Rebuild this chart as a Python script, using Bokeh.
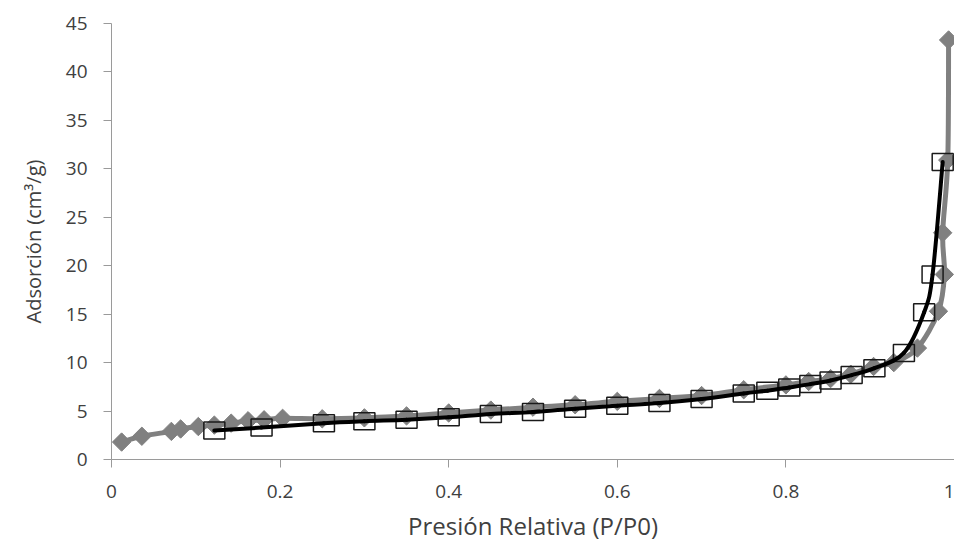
import numpy as np
from bokeh.plotting import figure
from bokeh.models import FixedTicker, Range1d
from bokeh.embed import file_html
from bokeh.resources import INLINE

# Gray series (diamonds)
gray_x = [0.012, 0.036, 0.071, 0.082, 0.103, 0.122, 0.142, 0.162, 0.181, 0.203,
          0.25, 0.30, 0.35, 0.40, 0.45, 0.50, 0.55, 0.60, 0.65, 0.70,
          0.75, 0.80, 0.827, 0.853, 0.877, 0.904, 0.928, 0.956, 0.981, 0.988,
          0.986, 0.992, 0.993]
gray_y = [1.8, 2.4, 2.9, 3.15, 3.4, 3.55, 3.75, 4.0, 4.1, 4.25,
          4.2, 4.3, 4.5, 4.8, 5.1, 5.4, 5.65, 6.0, 6.3, 6.6,
          7.2, 7.7, 8.05, 8.35, 8.8, 9.6, 10.0, 11.5, 15.3, 19.1,
          23.4, 30.9, 43.3]

# Black series (open squares)
black_x = [0.122, 0.178, 0.252, 0.30, 0.35, 0.40, 0.45, 0.50, 0.55, 0.60,
           0.65, 0.70, 0.75, 0.778, 0.804, 0.829, 0.853, 0.878, 0.905, 0.94,
           0.964, 0.974, 0.986]
black_y = [3.0, 3.3, 3.75, 3.95, 4.1, 4.35, 4.7, 4.9, 5.25, 5.55,
           5.83, 6.24, 6.82, 7.1, 7.44, 7.78, 8.16, 8.71, 9.43, 11.0,
           15.2, 19.1, 30.7]

x_ticks = [0, 0.2, 0.4, 0.6, 0.8, 1.0]
x_tick_labels = ["0", "0.2", "0.4", "0.6", "0.8", "1"]
y_ticks = [0, 5, 10, 15, 20, 25, 30, 35, 40, 45]


def smooth_segments(xs, ys):
    """Catmull-Rom style smoothing (like a spreadsheet 'smoothed line')."""
    x = np.asarray(xs, float)
    y = np.asarray(ys, float)
    n = len(x)
    xp = np.concatenate([[x[0]], x, [x[-1]]])
    yp = np.concatenate([[y[0]], y, [y[-1]]])
    i = np.arange(n - 1)
    x0, y0 = x[:-1], y[:-1]
    x1, y1 = x[1:], y[1:]
    cx0 = x0 + (xp[i + 2] - xp[i]) / 6.0
    cy0 = y0 + (yp[i + 2] - yp[i]) / 6.0
    cx1 = x1 - (xp[i + 3] - xp[i + 1]) / 6.0
    cy1 = y1 - (yp[i + 3] - yp[i + 1]) / 6.0
    return dict(x0=x0, y0=y0, x1=x1, y1=y1, cx0=cx0, cy0=cy0, cx1=cx1, cy1=cy1)


p = figure(width=954, height=544, output_backend="svg", toolbar_location=None,
           x_range=Range1d(0, 1), y_range=Range1d(0, 45),
           min_border_left=111, min_border_right=0, min_border_top=23,
           min_border_bottom=84)
p.outline_line_color = None
p.xgrid.visible = False
p.ygrid.visible = False

FONT = "Open Sans"
TXT = "#404040"
AX = "#9a9a9a"

for ax in (p.xaxis[0], p.yaxis[0]):
    ax.axis_line_color = AX
    ax.major_tick_line_color = AX
    ax.minor_tick_line_color = None
    ax.major_tick_in = 0
    ax.major_tick_out = 8
    ax.major_label_text_font = FONT
    ax.major_label_text_font_size = "19px"
    ax.major_label_text_color = TXT
    ax.axis_label_text_font = FONT
    ax.axis_label_text_font_style = "normal"
    ax.axis_label_text_color = TXT

p.xaxis.ticker = FixedTicker(ticks=x_ticks)
p.xaxis.major_label_overrides = {t: l for t, l in zip(x_ticks, x_tick_labels)}
p.xaxis.major_label_standoff = 17
p.xaxis.axis_label = "Presión Relativa (P/P0)"
p.xaxis.axis_label_text_font_size = "24px"
p.xaxis.axis_label_standoff = 8

p.yaxis.ticker = FixedTicker(ticks=y_ticks)
p.yaxis.major_label_standoff = 16
p.yaxis.axis_label = "Adsorción (cm³/g)"
p.yaxis.axis_label_text_font_size = "20px"
p.yaxis.axis_label_standoff = 16

# gray series
p.bezier(line_color="#808080", line_width=5, line_cap="round",
         **smooth_segments(gray_x, gray_y))
p.scatter(gray_x, gray_y, marker="square", angle=np.pi / 4, size=13,
          fill_color="#808080", line_color="#808080")

# black series
p.rect(black_x, black_y, width=21, height=17, width_units="screen",
       height_units="screen", fill_color=None, line_color="#1a1a1a", line_width=1.5)
p.bezier(line_color="black", line_width=4, line_cap="round",
         **smooth_segments(black_x, black_y))

open("out.html", "w").write(file_html(p, INLINE))
